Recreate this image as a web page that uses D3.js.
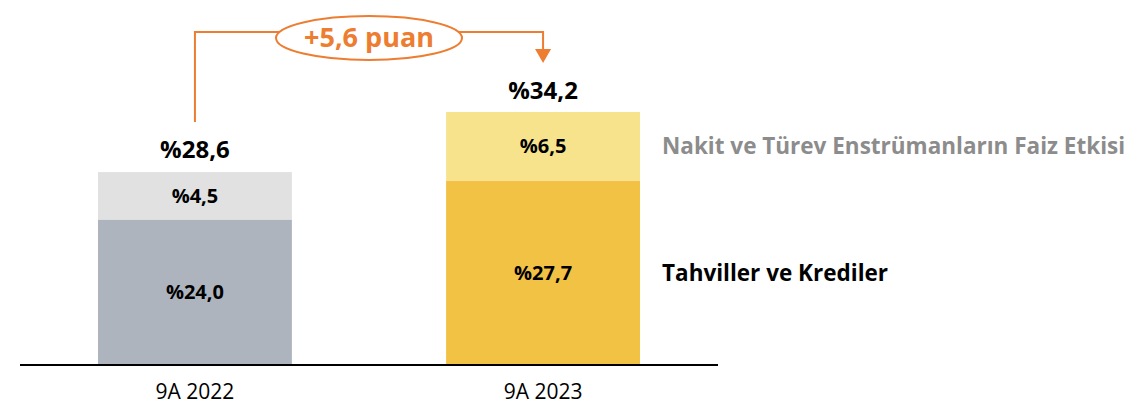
<!DOCTYPE html>
<html lang="tr">
<head>
    <meta charset="UTF-8">
    <title>Faiz Etkisi</title>
    <script src="https://d3js.org/d3.v7.min.js"></script>
    <style>
        body { margin: 0; background: #fff; font-family: "Open Sans", sans-serif; }
        .val { font-weight: bold; fill: #000; }
        .cat { font-size: 21px; fill: #000; }
        .legend { font-weight: bold; font-size: 22.5px; }
    </style>
</head>
<body>
    <svg width="1129" height="408"></svg>
    <script>
        const categories = ["9A 2022", "9A 2023"];
        const bondsLoans = [24.0, 27.7];     // Tahviller ve Krediler
        const cashDeriv = [4.5, 6.5];        // Nakit ve Türev Enstrümanların Faiz Etkisi
        const totals = [28.6, 34.2];
        const change = "+5,6 puan";
        const seriesNames = ["Tahviller ve Krediler", "Nakit ve Türev Enstrümanların Faiz Etkisi"];

        const fmt = v => "%" + v.toFixed(1).replace(".", ",");

        const svg = d3.select("svg");
        const baseY = 365;

        const x = d3.scaleBand()
            .domain(categories)
            .range([20, 718])
            .paddingInner(0.443)
            .paddingOuter(0.224);

        // the original axis does not start at zero
        const y = d3.scaleLinear()
            .domain([10.2, 34.2])
            .range([baseY, 112]);

        const colors = [
            ["#adb4be", "#e1e1e1"],
            ["#f2c244", "#f7e38c"]
        ];

        categories.forEach((c, i) => {
            const x0 = x(c), w = x.bandwidth(), cx = x0 + w / 2;
            const segs = [
                { lo: y.domain()[0], hi: bondsLoans[i], v: bondsLoans[i] },
                { lo: bondsLoans[i], hi: bondsLoans[i] + cashDeriv[i], v: cashDeriv[i] }
            ];
            segs.forEach((s, j) => {
                svg.append("rect")
                    .attr("x", x0)
                    .attr("y", y(s.hi))
                    .attr("width", w)
                    .attr("height", y(s.lo) - y(s.hi))
                    .attr("fill", colors[i][j]);
                svg.append("text")
                    .attr("class", "val")
                    .attr("x", cx)
                    .attr("y", (y(s.lo) + y(s.hi)) / 2)
                    .attr("dy", "0.35em")
                    .attr("text-anchor", "middle")
                    .style("font-size", "20px")
                    .text(fmt(s.v));
            });
            svg.append("text")
                .attr("class", "val")
                .attr("x", cx)
                .attr("y", y(totals[i]) - 13)
                .attr("text-anchor", "middle")
                .style("font-size", "24px")
                .text(fmt(totals[i]));
            svg.append("text")
                .attr("class", "cat")
                .attr("x", cx)
                .attr("y", 399)
                .attr("text-anchor", "middle")
                .text(c);
        });

        // baseline
        svg.append("line")
            .attr("x1", x.range()[0]).attr("x2", x.range()[1])
            .attr("y1", baseY).attr("y2", baseY)
            .attr("stroke", "#000").attr("stroke-width", 2);

        // legend labels next to the second bar
        const lx = x(categories[1]) + x.bandwidth() + 22;
        svg.append("text")
            .attr("class", "legend")
            .attr("x", lx)
            .attr("y", (y(bondsLoans[1]) + y(totals[1])) / 2)
            .attr("dy", "0.35em")
            .attr("fill", "#8c8c8c")
            .text(seriesNames[1]);
        svg.append("text")
            .attr("class", "legend")
            .attr("x", lx)
            .attr("y", (y(y.domain()[0]) + y(bondsLoans[1])) / 2)
            .attr("dy", "0.35em")
            .attr("fill", "#000")
            .text(seriesNames[0]);

        // change annotation
        const orange = "#ed7d31";
        const ax1 = x(categories[0]) + x.bandwidth() / 2;
        const ax2 = x(categories[1]) + x.bandwidth() / 2;
        const topY = 32;
        const tip = y(totals[1]) - 49;
        svg.append("path")
            .attr("d", `M${ax1},${y(totals[0]) - 49}V${topY}H${ax2}V${tip - 14}`)
            .attr("fill", "none")
            .attr("stroke", orange)
            .attr("stroke-width", 2);
        svg.append("path")
            .attr("d", `M${ax2 - 8},${tip - 14}L${ax2 + 8},${tip - 14}L${ax2},${tip}Z`)
            .attr("fill", orange);
        const mx = (ax1 + ax2) / 2;
        svg.append("ellipse")
            .attr("cx", mx).attr("cy", 38)
            .attr("rx", 93).attr("ry", 22)
            .attr("fill", "#fff")
            .attr("stroke", orange)
            .attr("stroke-width", 2);
        svg.append("text")
            .attr("x", mx)
            .attr("y", 38)
            .attr("dy", "0.35em")
            .attr("text-anchor", "middle")
            .attr("fill", orange)
            .style("font-weight", "bold")
            .style("font-size", "27px")
            .text(change);
    </script>
</body>
</html>
